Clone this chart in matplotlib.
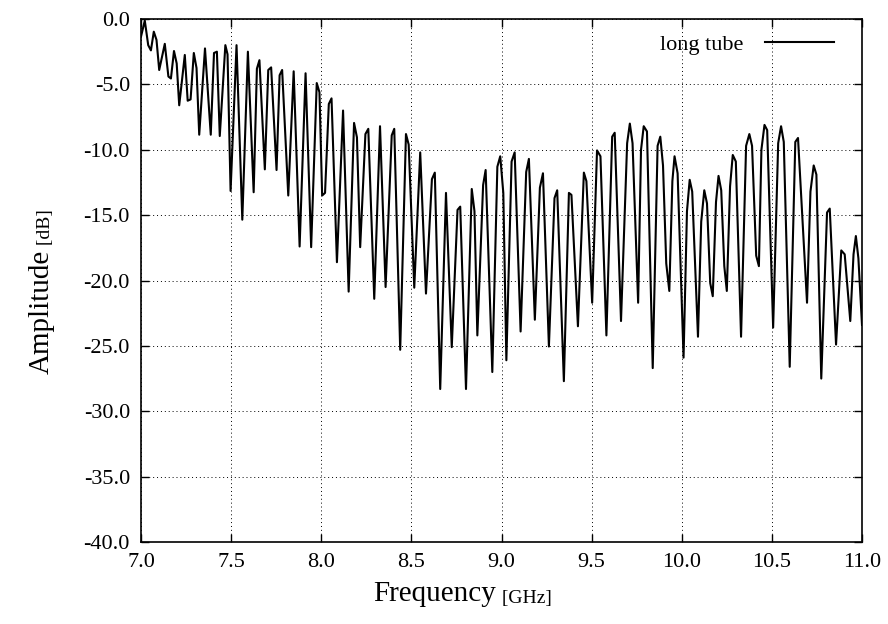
import matplotlib
matplotlib.use('Agg')
import matplotlib.pyplot as plt

# vertices (GHz, dB)
freq = [7.000, 7.021, 7.040, 7.055, 7.071, 7.086, 7.101, 7.132, 7.152, 7.166,
        7.183, 7.198, 7.212, 7.243, 7.259, 7.275, 7.293, 7.308, 7.323, 7.355,
        7.387, 7.405, 7.421, 7.437, 7.468, 7.480, 7.497, 7.530, 7.562, 7.593,
        7.625, 7.643, 7.657, 7.687, 7.706, 7.722, 7.752, 7.769, 7.783, 7.817,
        7.847, 7.880, 7.913, 7.944, 7.975, 7.990, 8.005, 8.021, 8.042, 8.057,
        8.087, 8.121, 8.152, 8.182, 8.198, 8.216, 8.245, 8.261, 8.294, 8.326,
        8.357, 8.391, 8.405, 8.438, 8.470, 8.485, 8.516, 8.549, 8.581, 8.614,
        8.630, 8.660, 8.692, 8.724, 8.756, 8.771, 8.803, 8.835, 8.850, 8.866,
        8.898, 8.912, 8.949, 8.977, 8.993, 9.010, 9.027, 9.056, 9.073, 9.106,
        9.137, 9.152, 9.185, 9.213, 9.230, 9.263, 9.294, 9.309, 9.346, 9.374,
        9.388, 9.424, 9.457, 9.471, 9.503, 9.530, 9.549, 9.582, 9.614, 9.628,
        9.663, 9.697, 9.712, 9.727, 9.758, 9.774, 9.789, 9.807, 9.839, 9.866,
        9.881, 9.896, 9.914, 9.931, 9.948, 9.960, 9.977, 10.010, 10.029, 10.044,
        10.058, 10.090, 10.108, 10.125, 10.140, 10.158, 10.172, 10.190, 10.204, 10.219,
        10.236, 10.250, 10.268, 10.283, 10.300, 10.329, 10.357, 10.375, 10.390, 10.413,
        10.428, 10.442, 10.459, 10.474, 10.507, 10.535, 10.551, 10.566, 10.599, 10.630,
        10.645, 10.695, 10.714, 10.732, 10.747, 10.774, 10.806, 10.821, 10.856, 10.885,
        10.904, 10.935, 10.953, 10.966, 10.980, 11.000]
amp = [-1.35, -0.12, -2.0, -2.4, -0.97, -1.6, -3.9, -1.9, -4.4, -4.55,
       -2.45, -3.4, -6.6, -2.75, -6.25, -6.15, -2.6, -3.75, -8.85, -2.25,
       -8.85, -2.6, -2.5, -8.95, -2.0, -2.7, -13.15, -2.0, -15.35, -2.5,
       -13.25, -3.8, -3.15, -11.5, -3.9, -3.7, -11.55, -4.3, -3.9, -13.5,
       -4.0, -17.4, -4.15, -17.45, -4.9, -5.6, -13.5, -13.3, -6.5, -6.07,
       -18.6, -7.0, -20.85, -7.95, -9.05, -17.45, -8.8, -8.4, -21.4, -8.2,
       -20.5, -8.9, -8.4, -25.3, -8.8, -9.6, -20.55, -10.2, -21.0, -12.25,
       -11.75, -28.3, -13.3, -25.1, -14.6, -14.35, -28.3, -13.0, -14.7, -24.2,
       -12.7, -11.55, -27.0, -11.3, -10.5, -13.3, -26.1, -10.9, -10.2, -23.9,
       -11.7, -10.7, -23.0, -12.9, -11.8, -25.05, -13.7, -13.1, -27.7, -13.3,
       -13.45, -23.5, -11.75, -12.4, -21.7, -10.05, -10.5, -24.2, -9.0, -8.7,
       -23.1, -9.5, -8.0, -9.5, -21.7, -10.0, -8.2, -8.6, -26.7, -9.7,
       -9.0, -11.2, -18.7, -20.8, -12.4, -10.5, -11.8, -25.9, -14.7, -12.3,
       -13.2, -24.3, -15.5, -13.1, -14.1, -20.2, -21.2, -14.0, -12.0, -13.1,
       -18.9, -20.8, -12.8, -10.4, -10.9, -24.3, -9.7, -8.8, -9.7, -18.1,
       -18.9, -10.0, -8.1, -8.5, -23.6, -9.5, -8.2, -9.4, -26.6, -9.4,
       -9.1, -21.7, -13.2, -11.2, -11.9, -27.5, -14.8, -14.5, -24.9, -17.7,
       -18.0, -23.1, -18.0, -16.6, -18.3, -23.4]

xticks = [7.0, 7.5, 8.0, 8.5, 9.0, 9.5, 10.0, 10.5, 11.0]
yticks = [0, -5, -10, -15, -20, -25, -30, -35, -40]

plt.rcParams['font.family'] = ['Liberation Serif', 'DejaVu Serif']
plt.rcParams['axes.unicode_minus'] = False

fig = plt.figure(figsize=(8.88, 6.24), dpi=100)
ax = fig.add_axes([141 / 888, 1 - 542 / 624, 721 / 888, 523 / 624])

ax.plot(freq, amp, color='black', lw=1.5, label='long tube')

ax.set_xlim(7.0, 11.0)
ax.set_ylim(-40, 0)
ax.set_xticks(xticks)
ax.set_yticks(yticks)
ax.set_xticklabels(['%.1f' % v for v in xticks])
ax.set_yticklabels(['%.1f' % v for v in yticks])
ax.tick_params(direction='in', top=True, right=True, length=6, width=1,
               labelsize=16, pad=8)
ax.grid(True, color='black', linestyle=(0, (1, 3)), linewidth=0.7)
for s in ax.spines.values():
    s.set_linewidth(1.2)

ax.legend(loc='upper right', bbox_to_anchor=(0.983, 1.0), frameon=False,
          markerfirst=False, fontsize=16, handlelength=3.1,
          handletextpad=1.0, borderaxespad=0.3)

# axis labels with smaller unit part
t1 = fig.text(0.032, 0.50, 'Amplitude', rotation=90, fontsize=21,
              ha='left', va='center')
ax.annotate(' [dB]', xy=(1, 1), xycoords=t1, rotation=90, fontsize=14,
            ha='right', va='bottom')
t2 = fig.text(0.49, 0.028, 'Frequency', fontsize=21, ha='center', va='bottom')
ax.annotate(' [GHz]', xy=(1, 0), xycoords=t2, fontsize=14,
            ha='left', va='bottom')

fig.savefig('out.png', dpi=100)
